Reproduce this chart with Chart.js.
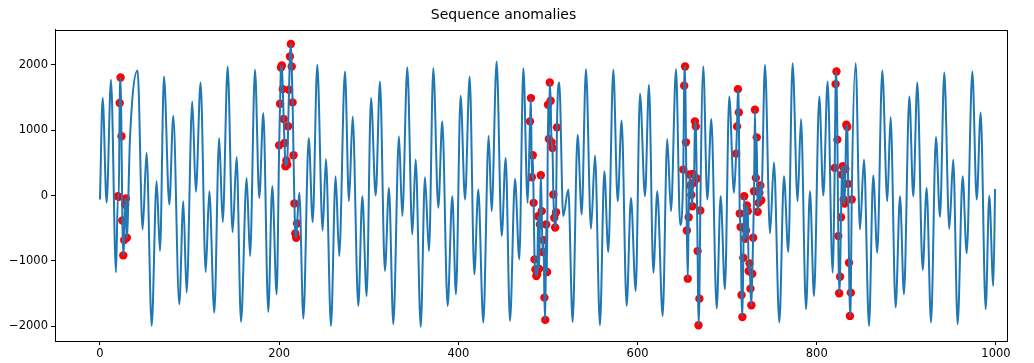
<!DOCTYPE html>
<html>
<head>
<meta charset="utf-8">
<script src="https://cdn.jsdelivr.net/npm/chart.js@4.4.1/dist/chart.umd.min.js"></script>
<style>
  body { margin: 0; background: #fff; }
</style>
</head>
<body>
<canvas id="chart" width="1034" height="363"></canvas>
<script>
// 通常の波形（山と谷を読み取った値）
const baseX = [
    0, 3, 7.4, 12.3, 17.9,
    33.5, 42, 47.6, 52, 57.7, 63.2, 67, 71.4, 77.4, 81.8, 88.5, 93, 96.7,
    103, 107, 112.3, 118, 122, 127.6, 133, 137, 142.5, 148, 152.5, 157.4,
    163.7, 167.5, 173, 177.8, 182.3, 187.8, 192.3, 197.2,
    222.5, 227, 233, 237.4, 242.5, 248.5, 252.2, 257.8, 263, 267, 273.4, 277.9,
    282, 288.3, 292.8, 297.6, 302.5, 307.7, 312.5, 318, 322.5, 327.4, 333.7, 337.4,
    343, 348.6, 352.3, 358, 362.7, 367.2, 372, 377.6, 382, 388, 393.2, 397.3,
    402.5, 407.4, 412.6, 417.8, 422.2, 427.8, 433.8, 437.1, 442.7, 448.3, 452.8,
    457.6, 463.2, 468, 472.5, 477.3,
    512.6, 517, 522.7, 527.5, 533.1, 537.6, 542.4, 548, 552.5, 558, 562.9, 567.3,
    572.9, 577.8, 582.2, 587.8, 592.6, 597.9, 602.7, 608.3, 612.7, 617.6, 622, 628,
    633.1, 637.3, 642.9, 647.5,
    673.3, 677.8, 682.3, 688.3, 692.7, 697.5, 702.3, 707.6,
    742.2, 747.8, 752.2, 758.2, 763.4, 768.2, 773, 778.6, 782.4, 788, 792.4, 796.9,
    802.8, 807.3, 812.1, 817.7,
    843.4, 848.2, 852.7, 858.3, 863, 867.5, 873.1, 878.7, 882.4, 888, 892.9, 897.3,
    903.3, 907.7, 912.2, 918.2, 922.6, 927.5, 933, 937.5, 942.3, 947.9, 952.3, 957.2,
    962.8, 967.3, 973.6, 978.5, 982.9, 988.5, 992.5, 997, 999
];
const baseY = [
    -61, 1492, -107, 1771, -1176,
    885, 1913, -519, 656, -1995, 219, -850, 1822, -137, 1221, -1664, -87, -1486,
    1440, 56, 1730, -1171, 66, -1791, 880, -407, 1974, -560, 590, -1934,
    270, -926, 1924, -36, 1262, -1781, 143, -1511,
    41, -1883, 880, -407, 2000, -534, 560, -1995, 295, -926, 1898, -87,
    1211, -1690, -10, -1537, 1492, 0, 1745, -1155, 117, -1969, 906, -315,
    1964, -595, 550, -2010, 280, -850, 1949, -188, 1135, -1690, -10, -1511,
    1527, -61, 1822, -1206, 92, -1944, 916, -239, 2050, -621, 575,
    -1918, 254, -977, 1949, -112,
    1730, -315, 92, -1934, 931, -290, 1934, -509, 611, -1985, 371, -865,
    1924, -87, 1150, -1690, -36, -1460, 1557, -10, 1695, -1180, 66, -1842,
    865, -239, 1934, -450,
    1974, -61, 1170, -1730, -10, -1435, 1516, 41,
    2000, -580, 509, -1944, 295, -865, 2026, -87, 1170, -1740, 66, -1537,
    1516, 0, 1745, -1180,
    2026, -519, 550, -1995, 305, -875, 1913, -87, 1201, -1715, -10, -1511,
    1516, -10, 1730, -1140, 117, -1944, 896, -326, 1883, -509, 550, -1969,
    295, -885, 1898, -61, 1272, -1740, -5, -1384, 100
];

// 異常値（赤い点）
const anomX = [
    20, 21, 22, 23, 24, 25, 26, 27, 28, 29, 30,
    200, 201, 202, 203, 204, 205, 206, 207, 208, 209, 210,
    211, 212, 213, 214, 215, 216, 217, 218, 219, 220,
    480, 481, 482, 483, 484, 485, 486, 487, 488, 489, 490,
    491, 492, 493, 494, 495, 496, 497, 498, 499, 500,
    501, 502, 503, 504, 505, 506, 507, 508, 509, 510,
    651, 652, 653, 654, 655, 656, 657, 658, 659, 660,
    661, 662, 663, 664, 665, 666, 667, 668, 669, 670,
    710, 711, 712, 713, 714, 715, 716, 717, 718, 719,
    720, 721, 722, 723, 724, 725, 726, 727, 728, 729,
    730, 731, 732, 733, 734, 735, 736, 737, 738,
    820, 821, 822, 823, 824, 825, 826, 827, 828, 829,
    830, 831, 832, 833, 834, 835, 836, 837, 838, 839
];
const anomY = [
    -10, -20, 1415, 1806, 906, -382, -916, -682, -137, -46, -646,
    768, 1405, 1960, 1990, 1628, 1170, 804, 448, 535, 470, 1059,
    1618, 2127, 2320, 1975, 1425, 616, -122, -580, -646, -427,
    1135, 1491, 280, 616, -112, -977, -1130, -1232, -1200, -316, -1120,
    -443, 310, -239, -865, -682, -1562, -1903, -443, -1170, 1389,
    865, 1730, 1450, 814, 728, 15, -341, -490, -255, 1043,
    397, 1679, 1974, 814, -534, -1272, -331, 321, 153, 10,
    -163, 330, 200, 1135, 1058, 260, -850, -1985, -1578, -229,
    641, 1058, 1628, 1272, -275, -483, -1522, -1858, -951, -10,
    -661, -534, -153, -239, -1155, -1038, -1425, -1679, -1196, -646,
    66, 1313, 270, 890, -249, -112, 41, 153, -71,
    423, 1705, 1898, 855, -621, -1496, -1242, -331, 321, 448,
    -61, -122, 407, 1084, 1048, 178, -1028, -1842, -1486, -61
];

// 目盛り
const xTickVals = [0, 200, 400, 600, 800, 1000];
const yTickVals = [-2000, -1000, 0, 1000, 2000];

// 線は通常の波形と異常値をつないだもの
const linePoints = baseX.map((x, i) => ({ x: x, y: baseY[i] }))
    .concat(anomX.map((x, i) => ({ x: x, y: anomY[i] })))
    .sort((a, b) => a.x - b.x);
const anomPoints = anomX.map((x, i) => ({ x: x, y: anomY[i] }));

// matplotlib風のマイナス記号
const fmt = v => (v < 0 ? '\u2212' + Math.abs(v) : String(v));

const tickFont = { family: 'DejaVu Sans', size: 11.5 };

// 枠線（上と右も描く）
const framePlugin = {
    id: 'frame',
    afterDraw(chart) {
        const a = chart.chartArea;
        const ctx = chart.ctx;
        ctx.save();
        ctx.strokeStyle = '#000';
        ctx.lineWidth = 1;
        ctx.strokeRect(Math.round(a.left) + 0.5, Math.round(a.top) + 0.5,
            Math.round(a.right - a.left), Math.round(a.bottom - a.top));
        ctx.restore();
    }
};

new Chart(document.getElementById('chart'), {
    type: 'line',
    data: {
        datasets: [{
            data: linePoints,
            borderColor: '#1f77b4',
            borderWidth: 2,
            pointRadius: 0,
            cubicInterpolationMode: 'monotone',
            fill: false
        }, {
            type: 'scatter',
            data: anomPoints,
            backgroundColor: '#ff0000',
            borderWidth: 0,
            pointRadius: 4.2
        }]
    },
    options: {
        responsive: false,
        animation: false,
        devicePixelRatio: 1,
        layout: { padding: { left: 0, right: 27, top: 0, bottom: 0 } },
        plugins: {
            legend: { display: false },
            tooltip: { enabled: false },
            title: {
                display: true,
                text: 'Sequence anomalies',
                color: '#000',
                font: { family: 'DejaVu Sans', size: 14, weight: 'normal' },
                padding: { top: 7, bottom: 6 }
            }
        },
        scales: {
            x: {
                type: 'linear',
                min: -50.2,
                max: 1012.3,
                afterFit: s => { s.height = 22; },
                afterBuildTicks: s => { s.ticks = xTickVals.map(v => ({ value: v })); },
                grid: { display: true, drawOnChartArea: false, drawTicks: true, tickLength: 4, color: '#000' },
                border: { display: true, color: '#000' },
                ticks: {
                    color: '#000',
                    font: tickFont,
                    padding: 2,
                    maxRotation: 0,
                    autoSkip: false,
                    callback: fmt
                }
            },
            y: {
                type: 'linear',
                min: -2226,
                max: 2536,
                afterFit: s => { s.width = 55; },
                afterBuildTicks: s => { s.ticks = yTickVals.map(v => ({ value: v })); },
                grid: { display: true, drawOnChartArea: false, drawTicks: true, tickLength: 4, color: '#000' },
                border: { display: true, color: '#000' },
                ticks: {
                    color: '#000',
                    font: tickFont,
                    padding: 3,
                    autoSkip: false,
                    callback: fmt
                }
            }
        }
    },
    plugins: [framePlugin]
});
</script>
</body>
</html>
